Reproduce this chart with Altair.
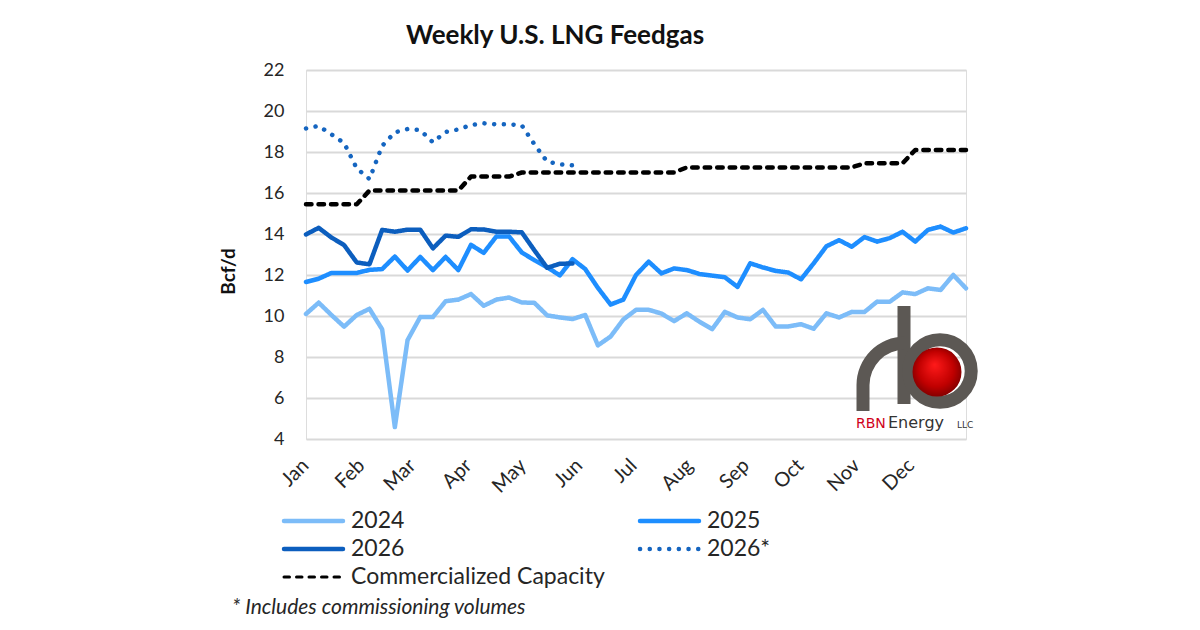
import json
import altair as alt
import pandas as pd

# ---------------- data ----------------
MONTHS = ["Jan", "Feb", "Mar", "Apr", "May", "Jun", "Jul", "Aug", "Sep", "Oct", "Nov", "Dec"]
MONTH_START_DAY = [0, 31, 59, 90, 120, 151, 181, 212, 243, 273, 304, 334]
Y_TICKS = [4, 6, 8, 10, 12, 14, 16, 18, 20, 22]

Y2024 = [10.1, 10.65, 10.05, 9.48, 10.05, 10.35, 9.35, 4.58, 8.82, 9.95,
         9.95, 10.72, 10.8, 11.07, 10.5, 10.8, 10.9, 10.66, 10.64, 10.03,
         9.93, 9.85, 10.05, 8.57, 9.0, 9.83, 10.3, 10.3, 10.12, 9.75,
         10.13, 9.72, 9.36, 10.2, 9.93, 9.84, 10.3, 9.49, 9.49, 9.6,
         9.38, 10.13, 9.93, 10.2, 10.2, 10.7, 10.7, 11.15, 11.07, 11.35,
         11.27, 12.0, 11.35]
Y2025 = [11.66, 11.82, 12.1, 12.1, 12.1, 12.25, 12.29, 12.9, 12.22, 12.88,
         12.24, 12.88, 12.24, 13.47, 13.08, 13.88, 13.88, 13.1, 12.72, 12.38,
         11.98, 12.77, 12.29, 11.37, 10.56, 10.8, 12.0, 12.65, 12.08, 12.32,
         12.24, 12.05, 11.97, 11.89, 11.42, 12.57, 12.37, 12.2, 12.12, 11.79,
         12.57, 13.4, 13.7, 13.38, 13.85, 13.63, 13.8, 14.11, 13.63, 14.2,
         14.36, 14.07, 14.28]
Y2026 = [13.98, 14.3, 13.83, 13.46, 12.61, 12.52, 14.2, 14.11, 14.21, 14.21,
         13.3, 13.92, 13.86, 14.23, 14.22, 14.11, 14.11, 14.08, 13.2, 12.35,
         12.55, 12.56]
Y2026_COMM = [19.15, 19.27, 18.86, 18.44, 17.2, 16.68, 18.3, 18.96, 19.12, 19.07,
              18.47, 18.98, 19.1, 19.32, 19.4, 19.35, 19.35, 19.3, 18.37, 17.53,
              17.4, 17.35]
CAPACITY = [15.45] * 5 + [16.12] * 8 + [16.8] * 4 + [17.0] * 13 + [17.25] * 14 + [17.45] * 4 + [18.1] * 5

SERIES = ["2024", "2025", "2026", "2026*", "Commercialized Capacity"]
COLORS = ["#7CBCF8", "#1E8EFF", "#0C5EBE", "#1565C0", "#000000"]
DASHES = [[1, 0], [1, 0], [1, 0], [0.1, 9.6], [5.5, 7]]
WIDTHS = [4.5, 4.5, 4.5, 4.5, 3]
FOOTNOTE = "* Includes commissioning volumes"
TITLE = "Weekly U.S. LNG Feedgas"

rows = []
for name, vals in zip(SERIES, [Y2024, Y2025, Y2026, Y2026_COMM, CAPACITY]):
    for i, v in enumerate(vals):
        rows.append({"week": i, "value": v, "series": name})
df = pd.DataFrame(rows)

FONT = "Lato"
TXT = "#262626"
W, H = 660, 369
LEFT, TOP = 306, 70

month_pos = [d / 7 for d in MONTH_START_DAY]
label_expr = f"{json.dumps(MONTHS)}[round(datum.value*7/30.4)]"

lines = alt.Chart(df).mark_line(strokeJoin="round", strokeCap="round").encode(
    x=alt.X("week:Q", scale=alt.Scale(domain=[0, 52], nice=False, zero=False),
            axis=alt.Axis(values=month_pos, labelExpr=label_expr, labelAngle=315,
                          labelAlign="right", labelBaseline="top",
                          grid=False, domain=False, ticks=False,
                          labelFont=FONT, labelFontSize=20, labelColor=TXT,
                          labelPadding=16, labelOffset=-8, title=None)),
    y=alt.Y("value:Q", scale=alt.Scale(domain=[4, 22], nice=False, zero=False),
            axis=alt.Axis(values=Y_TICKS, grid=True, gridColor="#D9D9D9", gridWidth=2,
                          domain=False, ticks=False, labelFont=FONT, labelFontSize=18,
                          labelColor=TXT, labelPadding=22, title="Bcf/d",
                          titleFont=FONT, titleFontSize=19, titleFontWeight="bold",
                          titleColor="#111111", titleX=-78, titleY=201,
                          titleBaseline="middle", titleAlign="center")),
    color=alt.Color("series:N", scale=alt.Scale(domain=SERIES, range=COLORS), legend=None),
    strokeDash=alt.StrokeDash("series:N", scale=alt.Scale(domain=SERIES, range=DASHES), legend=None),
    strokeWidth=alt.StrokeWidth("series:N", scale=alt.Scale(domain=SERIES, range=WIDTHS), legend=None),
)

one = pd.DataFrame({"k": [0]})
layers = [lines]

# ---- legend (two columns, row-major like the reference) ----
LEG_COL_X = [-22, 334]       # sample line start, relative to plot origin
LEG_ROW_Y = [451, 479, 507]
for idx, name in enumerate(SERIES):
    r, c = divmod(idx, 2)
    x0 = LEG_COL_X[c]
    y0 = LEG_ROW_Y[r]
    layers.append(alt.Chart(one).mark_rule(
        color=COLORS[idx], strokeDash=DASHES[idx], strokeWidth=WIDTHS[idx], strokeCap="round",
    ).encode(x=alt.value(x0), x2=alt.value(x0 + 59), y=alt.value(y0)))
    layers.append(alt.Chart(one).mark_text(
        text=name, font=FONT, fontSize=23, color=TXT, align="left", baseline="middle",
    ).encode(x=alt.value(x0 + 67), y=alt.value(y0)))

title = alt.Chart(one).mark_text(
    text=TITLE, font=FONT, fontSize=26, fontWeight="bold",
    color="#111111", align="center", baseline="middle",
).encode(x=alt.value(249), y=alt.value(-34))

footnote = alt.Chart(one).mark_text(
    text=FOOTNOTE, font=FONT, fontSize=21, fontStyle="italic",
    color=TXT, align="left", baseline="middle",
).encode(x=alt.value(232 - LEFT), y=alt.value(608 - TOP))

# ---- RBN Energy logo (decoration) ----
PIPE = "#5C5854"
stem = alt.Chart(one).mark_rule(color=PIPE, strokeWidth=13).encode(
    x=alt.value(598), y=alt.value(236), y2=alt.value(334))
leg = alt.Chart(one).mark_rule(color=PIPE, strokeWidth=13).encode(
    x=alt.value(557), y=alt.value(315), y2=alt.value(341))
arc = alt.Chart(one).mark_arc(color=PIPE, theta=4.712, theta2=6.2832,
                              radius=48.5, radius2=35.5).encode(
    x=alt.value(599), y=alt.value(315))
ball = alt.Chart(one).mark_point(
    shape="circle", filled=True, size=2400, opacity=1,
    color=alt.Gradient(gradient="radial", x1=0.45, y1=0.35, x2=0.5, y2=0.5, r1=0, r2=0.6,
                       stops=[alt.GradientStop(color="#FF1A1A", offset=0),
                              alt.GradientStop(color="#C00000", offset=0.6),
                              alt.GradientStop(color="#6A0000", offset=1)]),
).encode(x=alt.value(631), y=alt.value(302))
ring = alt.Chart(one).mark_point(
    shape="circle", filled=False, size=3900, color=PIPE, strokeWidth=13, opacity=1,
).encode(x=alt.value(634), y=alt.value(301))
rbn = alt.Chart(one).mark_text(text="RBN", font="DejaVu Sans", fontSize=14, color="#D0021B",
                               align="left", baseline="alphabetic").encode(
    x=alt.value(550), y=alt.value(358))
energy = alt.Chart(one).mark_text(text="Energy", font="DejaVu Sans", fontSize=16, color="#333333",
                                  align="left", baseline="alphabetic").encode(
    x=alt.value(582), y=alt.value(358))
llc = alt.Chart(one).mark_text(text="LLC", font="DejaVu Sans", fontSize=9, color="#333333",
                               align="left", baseline="alphabetic").encode(
    x=alt.value(651), y=alt.value(358))

layers += [stem, leg, arc, ring, ball, rbn, energy, llc, title, footnote]

chart = alt.layer(*layers).properties(
    width=W, height=H,
    autosize=alt.AutoSizeParams(type="none"),
    padding={"left": LEFT, "top": TOP, "right": 1200 - LEFT - W, "bottom": 630 - TOP - H},
).configure_view(stroke=None).configure(background="white")

chart.save("out.html", embed_options={"renderer": "svg", "actions": False})
